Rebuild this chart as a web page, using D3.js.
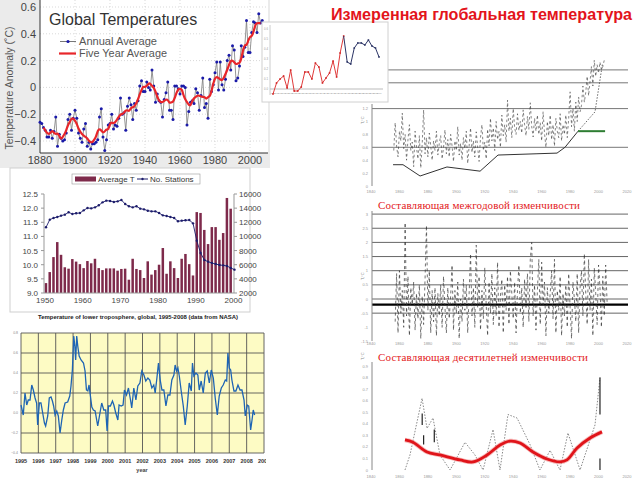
<!DOCTYPE html>
<html><head><meta charset="utf-8">
<script src="https://cdn.jsdelivr.net/npm/d3@7"></script>
<style>body{margin:0;background:#fff}svg{display:block}</style>
</head><body><svg id="c" width="640" height="480"></svg>
<script>
// ---------- DATA ----------
// Panel 1: Global Temperatures (annual + five-year average), 1880-2008
const p1Start = 1880;
const p1Annual = [
 -0.26,-0.27,-0.30,-0.32,-0.37,-0.37,-0.32,-0.38,-0.33,-0.22,
 -0.44,-0.35,-0.38,-0.40,-0.39,-0.34,-0.24,-0.20,-0.32,-0.23,
 -0.17,-0.23,-0.34,-0.38,-0.41,-0.31,-0.27,-0.44,-0.41,-0.46,
 -0.42,-0.42,-0.41,-0.39,-0.22,-0.16,-0.37,-0.47,-0.39,-0.28,
 -0.27,-0.20,-0.31,-0.28,-0.29,-0.23,-0.08,-0.20,-0.19,-0.32,
 -0.14,-0.08,-0.13,-0.24,-0.12,-0.17,-0.10,0.01,0.05,-0.03,
 -0.03,0.04,0.00,-0.02,0.13,0.01,-0.11,-0.05,-0.10,-0.11,
 -0.22,-0.09,-0.04,0.04,-0.17,-0.17,-0.24,0.01,0.01,-0.01,
 -0.05,0.01,0.01,0.00,-0.28,-0.18,-0.11,-0.10,-0.12,-0.01,
 -0.04,-0.17,-0.06,0.07,-0.15,-0.12,-0.23,0.06,-0.03,0.02,
 0.11,0.19,-0.02,0.19,0.02,-0.02,0.06,0.20,0.24,0.13,
 0.31,0.28,0.05,0.07,0.16,0.31,0.23,0.30,0.50,0.26,
 0.26,0.41,0.49,0.48,0.41,0.55,0.48,0.50,0.38];
const p1FiveStart = 1882;
const p1FiveYear = [
 -0.30,-0.32,-0.34,-0.35,-0.34,-0.32,-0.34,-0.35,
 -0.34,-0.36,-0.39,-0.37,-0.35,-0.32,-0.28,-0.26,-0.23,-0.23,
 -0.25,-0.27,-0.31,-0.33,-0.35,-0.36,-0.37,-0.38,-0.40,-0.41,
 -0.41,-0.39,-0.37,-0.32,-0.31,-0.32,-0.34,-0.33,-0.31,-0.32,
 -0.27,-0.26,-0.27,-0.26,-0.24,-0.22,-0.20,-0.20,-0.19,-0.17,
 -0.17,-0.18,-0.15,-0.15,-0.14,-0.12,-0.09,-0.05,-0.02,0.01,
 0.00,0.01,0.03,0.03,0.01,0.00,-0.03,-0.07,-0.10,-0.11,
 -0.11,-0.10,-0.09,-0.09,-0.12,-0.11,-0.11,-0.08,-0.04,-0.01,
 -0.01,-0.01,-0.06,-0.09,-0.11,-0.13,-0.14,-0.10,-0.08,-0.07,
 -0.06,-0.06,-0.07,-0.07,-0.07,-0.09,-0.07,-0.07,-0.03,0.03,
 0.07,0.08,0.07,0.06,0.05,0.07,0.10,0.13,0.17,0.20,
 0.20,0.19,0.17,0.18,0.18,0.21,0.28,0.32,0.31,0.35,
 0.38,0.38,0.41,0.47,0.48,0.48,0.48];
const p1XTicks = [1880,1900,1920,1940,1960,1980,2000];
const p1YTicks = [0.6,0.4,0.2,0,-0.2,-0.4];

// Panel 2: inset, 1978-2008
const p2Start = 1978;
const p2Red = [-0.05,0.06,0.10,0.13,0.01,0.19,-0.02,-0.02,0.02,0.17,0.17,0.10,0.26,0.22,0.06,0.11,0.16,0.28,0.12,0.36,0.53];
const p2Blue = [0.53,0.27,0.25,0.41,0.46,0.46,0.44,0.49,0.43,0.41,0.32];
const p2YTicks = [0,0.1,0.2,0.3,0.4,0.5,0.6];

// Panel 3: Average T (bars) and No. Stations (line), 1950-2000
const p3Start = 1950;
const p3AvgT = [
 9.35,9.74,10.27,10.80,10.35,9.91,9.86,10.20,10.11,10.02,
 9.88,10.13,10.05,10.21,9.88,9.81,9.87,9.87,9.87,9.79,
 9.85,9.86,9.47,10.21,9.85,9.81,9.53,10.12,9.65,9.81,
 10.00,10.59,9.68,10.12,9.88,9.53,10.21,10.38,10.02,9.62,
 11.86,11.83,11.23,10.73,11.33,11.33,10.88,11.12,12.36,11.98];
const p3Stations = [
 11290,12370,12600,12750,12940,13080,13410,13170,13270,13310,
 13690,14020,13970,14110,14400,14820,15060,15010,14870,14960,
 15150,14590,14260,14110,14260,13930,13830,13640,13550,13550,
 13310,12980,12890,12750,12610,12140,12230,12280,12320,11850,
 9400,7660,6670,6430,6240,6100,5960,5910,5820,5540,5300];
const p3LeftTicks = [9.0,9.5,10.0,10.5,11.0,11.5,12.0,12.5];
const p3RightTicks = [2000,4000,6000,8000,10000,12000,14000,16000];
const p3XTicks = [1950,1960,1970,1980,1990,2000];

// Panel 4: lower troposphere, 1995-2008
const p4T = [
 1995.00,1995.13,1995.23,1995.33,1995.42,1995.52,1995.62,1995.71,1995.81,1995.90,1995.96,
 1996.06,1996.15,1996.23,1996.35,1996.42,1996.54,1996.63,1996.73,1996.81,1996.88,1996.96,
 1997.06,1997.15,1997.25,1997.35,1997.44,1997.54,1997.69,1997.81,1997.88,1997.96,
 1998.04,1998.10,1998.15,1998.21,1998.27,1998.35,1998.46,1998.60,1998.69,1998.77,1998.85,1998.92,
 1999.00,1999.08,1999.17,1999.27,1999.42,1999.52,1999.65,1999.77,1999.88,1999.96,
 2000.04,2000.15,2000.27,2000.35,2000.46,2000.58,2000.65,2000.77,2000.88,2000.96,
 2001.08,2001.19,2001.31,2001.38,2001.50,2001.62,2001.73,2001.85,2001.96,
 2002.08,2002.19,2002.31,2002.42,2002.54,2002.65,2002.73,2002.83,2002.92,
 2003.02,2003.12,2003.23,2003.35,2003.46,2003.58,2003.69,2003.81,2003.88,2003.96,
 2004.04,2004.12,2004.23,2004.35,2004.46,2004.58,2004.69,2004.81,2004.88,2004.96,
 2005.08,2005.19,2005.27,2005.38,2005.50,2005.62,2005.73,2005.85,2005.96,
 2006.08,2006.19,2006.31,2006.42,2006.54,2006.65,2006.77,2006.85,2006.92,
 2007.00,2007.08,2007.15,2007.27,2007.38,2007.50,2007.62,2007.73,2007.85,2007.92,
 2008.04,2008.12,2008.23,2008.31,2008.38,2008.46];
const p4V = [
 0.08,-0.02,0.20,0.08,0.13,0.13,0.28,0.23,0.15,0.10,-0.12,
 0.10,0.10,0.02,-0.10,-0.13,-0.03,0.15,0.16,0.12,0.07,-0.02,
 0.02,-0.03,-0.20,-0.07,0.03,0.10,0.11,0.17,0.27,0.43,
 0.77,0.67,0.53,0.77,0.67,0.57,0.53,0.50,0.42,0.23,0.22,0.28,
 0.17,0.06,0.03,0.02,-0.13,-0.03,0.10,0.03,0.03,-0.18,
 0.07,0.07,0.12,0.08,0.00,-0.07,0.08,0.07,0.08,0.23,
 0.18,0.25,0.13,0.05,0.25,0.13,0.27,0.30,0.42,
 0.38,0.32,0.35,0.33,0.25,0.28,0.20,0.35,0.50,
 0.33,0.23,0.23,0.07,0.18,0.18,0.33,0.38,0.48,0.42,
 0.45,0.37,0.22,0.07,-0.12,0.07,0.30,0.22,0.50,0.37,
 0.40,0.38,0.23,0.32,0.20,0.40,0.42,0.30,0.43,
 0.35,0.15,-0.02,0.17,0.25,0.28,0.33,0.32,0.60,
 0.45,0.43,0.33,0.22,0.22,0.28,0.23,0.23,0.13,-0.03,
 0.08,0.07,-0.17,-0.07,0.03,-0.02];
const p4Years = [1995,1996,1997,1998,1999,2000,2001,2002,2003,2004,2005,2006,2007,2008,2009];
const p4YTicks = [0.8,0.6,0.4,0.2,0.0,-0.2,-0.4];

// Right panels: shared year axis
const rYearTicks = [1840,1860,1880,1900,1920,1940,1960,1980,2000,2020];

// Panel 5: measured series (annual), 1856-2004
const p5Start = 1856;
const p5Series = [
 0.55,0.98,0.62,0.45,0.85,0.70,1.13,0.58,0.80,0.40,
 0.72,0.95,0.55,0.68,0.30,0.85,0.60,0.42,0.78,0.28,
 0.65,1.18,0.50,0.75,0.45,0.82,0.62,0.40,0.70,0.55,
 0.85,0.48,0.66,0.78,0.42,0.60,0.87,0.50,0.72,0.45,
 0.80,0.62,0.38,0.70,0.55,0.92,0.48,0.66,0.40,0.75,
 0.58,0.85,0.35,0.62,0.90,0.52,0.70,0.45,0.84,0.60,
 0.38,0.75,0.95,0.55,0.68,0.42,0.88,0.62,1.05,0.70,
 0.90,0.55,1.00,0.72,0.85,0.60,1.10,0.78,0.95,0.68,
 1.33,0.85,1.05,0.75,1.20,0.90,0.80,1.12,0.86,1.00,
 0.82,1.18,0.95,0.78,1.08,0.88,1.29,0.92,0.76,1.05,
 0.85,1.10,0.80,0.98,0.70,1.15,0.82,0.60,1.00,0.78,
 1.10,0.72,0.95,0.62,1.05,0.85,0.75,1.12,0.70,0.95,
 0.80,1.10,0.75,1.05,1.46,0.92,1.20,0.85,1.30,1.00,
 1.38,1.15,1.25,1.55,1.30,1.45,1.70,1.40,1.62,1.85,
 1.55,1.95,1.70,1.88,1.75,1.92,1.80,1.85,1.95];
const p5TrendYears = [1855.5,1862.5,1874.5,1893.4,1916.7,1929.3,1956.7,1970.8,1976.4,1985.6];
const p5TrendVals  = [0.33,0.33,0.155,0.295,0.23,0.48,0.50,0.51,0.60,0.85];
const p5UpYears = [1985.6,1997.5,2002.8];
const p5UpVals  = [0.85,1.15,1.9];
const p5GreenYears = [1985.6,2004.6];
const p5GreenVals = [0.85,0.85];
const p5Lines = [0.6,1.2,1.6,1.8];
const p5YTicks = [0,0.2,0.4,0.6,0.8,1.0,1.2];

// Panel 6: interannual component, 1857-2006
const p6Start = 1857;
const p6Series = [
 -0.8,0.9,-1.2,1.0,-0.5,0.3,-1.0,2.7,-0.6,0.8,
 -1.3,0.4,-0.2,0.6,-1.1,0.2,-0.7,0.5,-1.4,0.1,
 -0.9,0.7,2.6,-0.4,1.0,-1.2,0.3,-0.8,0.4,-1.3,
 0.2,-0.6,0.5,-1.0,0.8,-0.3,-1.2,0.4,-0.7,0.1,
 1.2,-1.1,0.3,-0.5,0.6,-1.4,0.0,-0.8,0.7,-0.4,
 0.5,-1.2,0.2,1.6,-0.6,0.4,-1.0,1.9,-0.3,0.8,
 -1.1,0.3,-0.7,1.1,-0.2,-1.3,0.6,-0.5,0.9,-0.9,
 0.4,-0.6,1.3,-1.0,0.1,0.7,-1.2,0.5,-0.4,0.8,
 -0.9,1.0,0.2,-0.7,0.6,-1.2,0.3,1.2,-0.5,0.4,
 -1.0,0.7,-0.3,0.9,-0.8,1.4,2.0,-0.6,0.5,-1.1,
 0.3,1.4,-0.9,1.3,-0.2,0.6,-1.3,0.4,-0.5,0.2,
 1.0,-0.7,1.4,-1.2,0.3,-0.4,0.8,-1.3,0.2,-0.6,
 0.5,-1.0,0.9,-0.3,-1.4,0.6,0.0,-0.8,0.9,-1.2,
 0.4,1.0,-0.6,1.6,0.2,-0.9,1.4,-0.4,0.7,-1.3,
 1.1,0.2,-0.9,1.2,0.4,-1.0,0.8,-0.6,1.2,-0.1];
const p6Lines = [-0.5,0,0.5,1.0,1.5,2.0,2.5,3.0];
const p6Mean = -0.2;
const p6YTicks = [3,2.5,2,1.5,1,0.5,0,-0.5,-1,-1.5];

// Panel 7: decadal component
const p7SmoothYears = [1863.9,1869.5,1879.4,1888.5,1902.6,1911.7,1921.6,1930.7,1937.7,1944.8,1953.9,1963.8,1972.9,1977.8,1984.9,1994.0,2002.4];
const p7SmoothVals  = [0.26,0.24,0.156,0.13,0.087,0.07,0.13,0.216,0.25,0.234,0.156,0.095,0.07,0.087,0.19,0.277,0.33];
const p7DotYears = [1863.9,1867.4,1875.9,1879.4,1883.6,1888.5,1895.6,1906.1,1913.1,1918.8,1925.8,1930.7,1936.3,1942.7,1951.8,1958.8,1965.9,1972.9,1978.5,1987.0,1997.5,2001.0];
const p7DotVals  = [0,0.13,0.62,0.36,0.45,0.13,0,0.24,0.13,0,0.35,0,0.48,0.45,0.22,0,0.17,0,0.32,0,0.39,0.80];
const p7SegYears = [2001.0,2001.0,1876.0,1877.0,1884.5];
const p7SegLow   = [0.48,0.0,0.39,0.22,0.24];
const p7SegHigh  = [0.80,0.10,0.49,0.30,0.35];
const p7YTicks = [0,0.1,0.2,0.3,0.4,0.5,0.6,0.7,0.8,0.9];

// ---------- DRAW ----------
const svg = d3.select('#c');
const SANS = 'Liberation Sans, Arial, sans-serif';
const SERIF = 'Liberation Serif, Times New Roman, serif';

// ===== Panel 5 (right top), drawn first (inset overlaps it) =====
const rx = d3.scaleLinear().domain([1840,2020]).range([371,627]);
{
  const g = svg.append('g');
  const y = d3.scaleLinear().domain([0,1.2]).range([186,108.6]);
  g.selectAll('line.h').data(p5Lines).join('line')
    .attr('x1',372).attr('x2',628).attr('y1',d=>y(d)).attr('y2',d=>y(d))
    .attr('stroke','#777').attr('stroke-width',1);
  g.append('line').attr('x1',372).attr('x2',372).attr('y1',104).attr('y2',186).attr('stroke','#888');
  g.selectAll('text.yt').data(p5YTicks).join('text')
    .attr('x',368).attr('y',d=>y(d)+1.5).attr('text-anchor','end')
    .attr('font-size',4).attr('fill','#999').attr('font-family',SANS).text(d=>d);
  g.selectAll('text.xt').data(rYearTicks).join('text')
    .attr('x',d=>rx(d)).attr('y',193).attr('text-anchor','middle')
    .attr('font-size',4).attr('fill','#999').attr('font-family',SANS).text(d=>d);
  g.append('text').attr('transform','translate(364,124) rotate(-90)')
    .attr('font-size',4).attr('fill','#888').attr('font-family',SANS).text('T,°C');
  const pts = p5Series.map((v,i)=>[p5Start+i,v]);
  g.append('path').datum(pts)
    .attr('d',d3.line().x(d=>rx(d[0])).y(d=>y(d[1])))
    .attr('fill','none').attr('stroke','#333').attr('stroke-width',0.6).attr('stroke-dasharray','2.5,2.5');
  g.append('path').datum(p5TrendYears.map((t,i)=>[t,p5TrendVals[i]]))
    .attr('d',d3.line().x(d=>rx(d[0])).y(d=>y(d[1])))
    .attr('fill','none').attr('stroke','#333').attr('stroke-width',1);
  g.append('path').datum(p5UpYears.map((t,i)=>[t,p5UpVals[i]]))
    .attr('d',d3.line().x(d=>rx(d[0])).y(d=>y(d[1])))
    .attr('fill','none').attr('stroke','#444').attr('stroke-width',0.8).attr('stroke-dasharray','1.5,1.5');
  g.append('path').datum(p5GreenYears.map((t,i)=>[t,p5GreenVals[i]]))
    .attr('d',d3.line().x(d=>rx(d[0])).y(d=>y(d[1])))
    .attr('fill','none').attr('stroke','#2e7d32').attr('stroke-width',2);
}

// ===== Panel 1: Global Temperatures =====
{
  const g = svg.append('g');
  g.append('rect').attr('x',0).attr('y',0).attr('width',270).attr('height',168).attr('fill','#ebebeb');
  const x = d3.scaleLinear().domain([1880,2010]).range([40,267.5]);
  const y = d3.scaleLinear().domain([-0.4,0.6]).range([141,7]);
  g.append('rect').attr('x',40).attr('y',0).attr('width',228).attr('height',153).attr('fill','#fff');
  g.selectAll('line.vg').data(p1XTicks.slice(1)).join('line')
    .attr('x1',d=>x(d)).attr('x2',d=>x(d)).attr('y1',0).attr('y2',153)
    .attr('stroke','#c8c8c8').attr('stroke-width',0.7).attr('stroke-dasharray','1,2');
  g.selectAll('line.hg').data(p1YTicks).join('line')
    .attr('x1',40).attr('x2',268).attr('y1',d=>y(d)).attr('y2',d=>y(d))
    .attr('stroke','#c8c8c8').attr('stroke-width',0.7).attr('stroke-dasharray','1,2');
  g.append('line').attr('x1',40).attr('x2',40).attr('y1',0).attr('y2',153).attr('stroke','#333');
  g.append('line').attr('x1',40).attr('x2',268).attr('y1',153).attr('y2',153).attr('stroke','#333');
  g.selectAll('text.yt').data(p1YTicks).join('text')
    .attr('x',36).attr('y',d=>y(d)+4).attr('text-anchor','end')
    .attr('font-size',11).attr('fill','#444').attr('font-family',SANS).text(d=>d===0?'0':d3.format('.1f')(d));
  g.selectAll('text.xt').data(p1XTicks).join('text')
    .attr('x',d=>x(d)).attr('y',164).attr('text-anchor','middle')
    .attr('font-size',11).attr('fill','#444').attr('font-family',SANS).text(d=>d);
  g.append('text').attr('transform','translate(13,88) rotate(-90)').attr('text-anchor','middle')
    .attr('font-size',10.5).attr('fill','#555').attr('font-family',SANS).text('Temperature Anomaly (˚C)');
  g.append('text').attr('x',49).attr('y',25).attr('font-size',16).attr('fill','#333')
    .attr('font-family',SANS).text('Global Temperatures');
  // legend
  g.append('line').attr('x1',60).attr('x2',76).attr('y1',41.5).attr('y2',41.5).attr('stroke','#777');
  g.append('circle').attr('cx',68).attr('cy',41.5).attr('r',1.6).attr('fill','#1a1aa8');
  g.append('text').attr('x',79).attr('y',45).attr('font-size',10.5).attr('fill','#555').attr('font-family',SANS)
    .attr('textLength',78).attr('lengthAdjust','spacingAndGlyphs').text('Annual Average');
  g.append('line').attr('x1',59).attr('x2',76).attr('y1',53.5).attr('y2',53.5).attr('stroke','#e8262a').attr('stroke-width',2.2);
  g.append('text').attr('x',79).attr('y',57).attr('font-size',10.5).attr('fill','#555').attr('font-family',SANS)
    .attr('textLength',88).attr('lengthAdjust','spacingAndGlyphs').text('Five Year Average');
  const ann = p1Annual.map((v,i)=>[p1Start+i,v]);
  g.append('path').datum(ann).attr('d',d3.line().x(d=>x(d[0])).y(d=>y(d[1])))
    .attr('fill','none').attr('stroke','#7a7a7a').attr('stroke-width',0.8);
  g.selectAll('circle.a').data(ann).join('circle')
    .attr('cx',d=>x(d[0])).attr('cy',d=>y(d[1])).attr('r',1.5).attr('fill','#1a1aa8');
  const five = p1FiveYear.map((v,i)=>[p1FiveStart+i,v]);
  g.append('path').datum(five).attr('d',d3.line().curve(d3.curveBasis).x(d=>x(d[0])).y(d=>y(d[1])))
    .attr('fill','none').attr('stroke','#e8262a').attr('stroke-width',2.2);
}

// ===== Panel 2: inset =====
{
  const g = svg.append('g');
  g.append('rect').attr('x',262).attr('y',22).attr('width',126).attr('height',80)
    .attr('fill','#fff').attr('stroke','#d0d0d0');
  const x = d3.scaleLinear().domain([1978,2008]).range([273,379]);
  const y = d3.scaleLinear().domain([0,0.5]).range([89,39]);
  g.append('line').attr('x1',270).attr('x2',270).attr('y1',25).attr('y2',95).attr('stroke','#ccc');
  g.append('line').attr('x1',270).attr('x2',383).attr('y1',89).attr('y2',89).attr('stroke','#bbb');
  g.selectAll('text.yt').data(p2YTicks).join('text')
    .attr('x',268).attr('y',d=>y(d)+1).attr('text-anchor','end')
    .attr('font-size',2.8).attr('fill','#999').attr('font-family',SANS).text(d=>d3.format('.1f')(d));
  g.selectAll('text.xt').data(d3.range(1978,2009)).join('text')
    .attr('x',d=>x(d)).attr('y',93.5).attr('text-anchor','middle')
    .attr('font-size',2.2).attr('fill','#999').attr('font-family',SANS).text(d=>d);
  const red = p2Red.map((v,i)=>[p2Start+i,v]);
  const blue = p2Blue.map((v,i)=>[p2Start+p2Red.length-1+i,v]);
  const ln = d3.line().x(d=>x(d[0])).y(d=>y(d[1]));
  g.append('path').datum(red).attr('d',ln).attr('fill','none').attr('stroke','#e03a3a').attr('stroke-width',1);
  g.selectAll('rect.r').data(red).join('rect').attr('x',d=>x(d[0])-0.8).attr('y',d=>y(d[1])-0.8)
    .attr('width',1.6).attr('height',1.6).attr('fill','#d02525');
  g.append('path').datum(blue).attr('d',ln).attr('fill','none').attr('stroke','#2c3566').attr('stroke-width',1);
  g.selectAll('rect.b').data(blue.slice(1)).join('rect').attr('x',d=>x(d[0])-0.8).attr('y',d=>y(d[1])-0.8)
    .attr('width',1.6).attr('height',1.6).attr('fill','#2c3566');
}

// ===== Panel 3: Average T / No. Stations =====
{
  const g = svg.append('g');
  g.append('rect').attr('x',10).attr('y',168).attr('width',240).attr('height',144)
    .attr('fill','#fff').attr('stroke','#cfcfcf');
  const x = d3.scaleLinear().domain([1950,2000]).range([45,233.5]);
  const yL = d3.scaleLinear().domain([9,12.5]).range([293,194]);
  const yR = d3.scaleLinear().domain([2000,16000]).range([293,194]);
  g.selectAll('rect.bar').data(p3AvgT.map((v,i)=>[p3Start+i,v])).join('rect')
    .attr('x',d=>x(d[0])-0.3).attr('width',2.5)
    .attr('y',d=>yL(d[1])).attr('height',d=>yL(9)-yL(d[1])).attr('fill','#7e2a4b');
  g.append('line').attr('x1',44).attr('x2',44).attr('y1',194).attr('y2',293).attr('stroke','#999');
  g.append('line').attr('x1',234).attr('x2',234).attr('y1',194).attr('y2',293).attr('stroke','#999');
  g.append('line').attr('x1',44).attr('x2',234).attr('y1',293).attr('y2',293).attr('stroke','#999');
  g.selectAll('text.yl').data(p3LeftTicks).join('text')
    .attr('x',38).attr('y',d=>yL(d)+3).attr('text-anchor','end')
    .attr('font-size',8).attr('fill','#444').attr('font-family',SANS).text(d=>d3.format('.1f')(d));
  g.selectAll('line.ytl').data(p3LeftTicks).join('line')
    .attr('x1',41).attr('x2',44).attr('y1',d=>yL(d)).attr('y2',d=>yL(d)).attr('stroke','#999');
  g.selectAll('line.ytr').data(p3RightTicks).join('line')
    .attr('x1',234).attr('x2',237).attr('y1',d=>yR(d)).attr('y2',d=>yR(d)).attr('stroke','#999');
  g.selectAll('text.yr').data(p3RightTicks).join('text')
    .attr('x',239).attr('y',d=>yR(d)+3).attr('text-anchor','start')
    .attr('font-size',8).attr('fill','#444').attr('font-family',SANS).text(d=>d);
  g.selectAll('text.xt').data(p3XTicks).join('text')
    .attr('x',d=>x(d)).attr('y',303).attr('text-anchor','middle')
    .attr('font-size',8).attr('fill','#444').attr('font-family',SANS).text(d=>d);
  const st = p3Stations.map((v,i)=>[p3Start+i,v]);
  g.append('path').datum(st).attr('d',d3.line().x(d=>x(d[0])+1).y(d=>yR(d[1])))
    .attr('fill','none').attr('stroke','#1c1c6b').attr('stroke-width',0.9);
  g.selectAll('circle.s').data(st).join('circle')
    .attr('cx',d=>x(d[0])+1).attr('cy',d=>yR(d[1])).attr('r',1.2).attr('fill','#1c1c6b');
  // legend
  g.append('rect').attr('x',72).attr('y',174).attr('width',128).attr('height',10).attr('fill','#fff').attr('stroke','#999').attr('stroke-width',0.6);
  g.append('rect').attr('x',75).attr('y',176.5).attr('width',21).attr('height',5).attr('fill','#7e2a4b');
  g.append('text').attr('x',98).attr('y',182).attr('font-size',8).attr('fill','#333').attr('font-family',SANS).text('Average T');
  g.append('line').attr('x1',137).attr('x2',148).attr('y1',179).attr('y2',179).attr('stroke','#1c1c6b');
  g.append('circle').attr('cx',142.5).attr('cy',179).attr('r',1.2).attr('fill','#1c1c6b');
  g.append('text').attr('x',150).attr('y',182).attr('font-size',8).attr('fill','#333').attr('font-family',SANS).text('No. Stations');
}

// ===== Panel 4: lower troposphere =====
{
  svg.append('clipPath').attr('id','clip4').append('rect').attr('x',0).attr('y',312).attr('width',266).attr('height',168);
  const g = svg.append('g').attr('clip-path','url(#clip4)');
  const x = d3.scaleLinear().domain([1995,2009]).range([21,264]);
  const y = d3.scaleLinear().domain([-0.4,0.8]).range([453,333]);
  g.append('text').attr('x',38).attr('y',318.5).attr('font-size',6).attr('font-weight','bold')
    .attr('textLength',200).attr('lengthAdjust','spacingAndGlyphs')
    .attr('fill','#222').attr('font-family',SANS)
    .text('Temperature of lower troposphere, global, 1995-2008 (data from NASA)');
  g.append('rect').attr('x',21).attr('y',333).attr('width',243).attr('height',120).attr('fill','#fdfbc4');
  g.selectAll('line.vg').data(p4Years).join('line')
    .attr('x1',d=>x(d)).attr('x2',d=>x(d)).attr('y1',333).attr('y2',453).attr('stroke','#555').attr('stroke-width',0.9);
  g.selectAll('line.hg').data(p4YTicks).join('line')
    .attr('x1',21).attr('x2',264).attr('y1',d=>y(d)).attr('y2',d=>y(d)).attr('stroke','#555').attr('stroke-width',0.9);
  g.selectAll('text.yt').data(p4YTicks).join('text')
    .attr('x',18).attr('y',d=>y(d)+1.2).attr('text-anchor','end')
    .attr('font-size',3.5).attr('fill','#888').attr('font-family',SANS).text(d=>d3.format('.1f')(d));
  g.selectAll('text.xt').data(p4Years).join('text')
    .attr('x',d=>x(d)).attr('y',462.5).attr('text-anchor','middle').attr('font-weight','bold')
    .attr('font-size',5.5).attr('fill','#333').attr('font-family',SANS).text(d=>d);
  g.append('text').attr('x',142).attr('y',472).attr('text-anchor','middle').attr('font-weight','bold')
    .attr('font-size',5.5).attr('fill','#444').attr('font-family',SANS).text('year');
  g.append('path').datum(p4T.map((t,i)=>[t,p4V[i]]))
    .attr('d',d3.line().x(d=>x(d[0])).y(d=>y(d[1])))
    .attr('fill','none').attr('stroke','#1e64b4').attr('stroke-width',1.3);
}

// ===== Main title =====
svg.append('text').attr('x',331).attr('y',20).attr('font-size',16).attr('font-weight','bold')
  .attr('fill','#e3141b').attr('font-family',SANS).attr('textLength',301).attr('lengthAdjust','spacingAndGlyphs')
  .text('Измеренная глобальная температура');

// ===== Panel 6: interannual =====
{
  const g = svg.append('g');
  const y = d3.scaleLinear().domain([0,3]).range([299,214.1]);
  g.append('text').attr('x',378).attr('y',209).attr('font-size',11).attr('fill','#e3201c')
    .attr('font-family',SERIF).attr('textLength',202).attr('lengthAdjust','spacing')
    .text('Составляющая межгодовой изменчивости');
  g.selectAll('line.h').data(p6Lines).join('line')
    .attr('x1',372).attr('x2',628).attr('y1',d=>y(d)).attr('y2',d=>y(d))
    .attr('stroke','#555').attr('stroke-width',0.9);
  g.append('line').attr('x1',372).attr('x2',628).attr('y1',y(p6Mean)).attr('y2',y(p6Mean))
    .attr('stroke','#000').attr('stroke-width',2.2);
  g.append('line').attr('x1',372).attr('x2',372).attr('y1',211).attr('y2',341).attr('stroke','#888');
  g.selectAll('text.yt').data(p6YTicks).join('text')
    .attr('x',368).attr('y',d=>y(d)+1.5).attr('text-anchor','end')
    .attr('font-size',4).attr('fill','#999').attr('font-family',SANS).text(d=>d);
  g.selectAll('text.xt').data(rYearTicks).join('text')
    .attr('x',d=>rx(d)).attr('y',345).attr('text-anchor','middle')
    .attr('font-size',4).attr('fill','#999').attr('font-family',SANS).text(d=>d);
  g.append('text').attr('transform','translate(364,280) rotate(-90)')
    .attr('font-size',4).attr('fill','#888').attr('font-family',SANS).text('T,°C');
  g.append('path').datum(p6Series.map((v,i)=>[p6Start+i,v]))
    .attr('d',d3.line().x(d=>rx(d[0])).y(d=>y(d[1])))
    .attr('fill','none').attr('stroke','#333').attr('stroke-width',0.7).attr('stroke-dasharray','3,3');
}

// ===== Panel 7: decadal =====
{
  const g = svg.append('g');
  const y = d3.scaleLinear().domain([0,0.9]).range([470,366]);
  g.append('text').attr('x',378).attr('y',361).attr('font-size',11).attr('fill','#e3201c')
    .attr('font-family',SERIF).attr('textLength',210).attr('lengthAdjust','spacing')
    .text('Составляющая десятилетней изменчивости');
  g.append('line').attr('x1',372).attr('x2',372).attr('y1',362).attr('y2',470).attr('stroke','#888');
  g.selectAll('text.yt').data(p7YTicks).join('text')
    .attr('x',368).attr('y',d=>y(d)+1.5).attr('text-anchor','end')
    .attr('font-size',4).attr('fill','#999').attr('font-family',SANS).text(d=>d);
  g.selectAll('text.xt').data(rYearTicks).join('text')
    .attr('x',d=>rx(d)).attr('y',478).attr('text-anchor','middle')
    .attr('font-size',4).attr('fill','#999').attr('font-family',SANS).text(d=>d);
  g.append('text').attr('transform','translate(364,360) rotate(-90)')
    .attr('font-size',4).attr('fill','#888').attr('font-family',SANS).text('T,°C');
  g.append('path').datum(p7DotYears.map((t,i)=>[t,p7DotVals[i]]))
    .attr('d',d3.line().x(d=>rx(d[0])).y(d=>y(d[1])))
    .attr('fill','none').attr('stroke','#555').attr('stroke-width',0.7).attr('stroke-dasharray','1.5,1.5');
  g.selectAll('line.seg').data(p7SegYears.map((t,i)=>[t,p7SegLow[i],p7SegHigh[i]])).join('line')
    .attr('x1',d=>rx(d[0])).attr('x2',d=>rx(d[0])).attr('y1',d=>y(d[1])).attr('y2',d=>y(d[2]))
    .attr('stroke','#222').attr('stroke-width',1.2);
  const sm = p7SmoothYears.map((t,i)=>[t,p7SmoothVals[i]]);
  const ln = d3.line().curve(d3.curveCatmullRom).x(d=>rx(d[0])).y(d=>y(d[1]));
  g.append('path').datum(sm).attr('d',ln).attr('fill','none').attr('stroke','#f08a8a').attr('stroke-width',4.5).attr('stroke-opacity',0.6);
  g.append('path').datum(sm).attr('d',ln).attr('fill','none').attr('stroke','#e0141a').attr('stroke-width',2.8);
}
</script></body></html>
